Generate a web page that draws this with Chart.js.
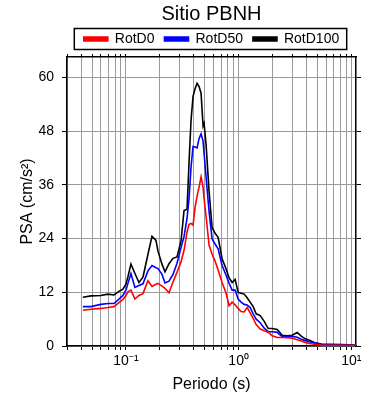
<!DOCTYPE html>
<html>
<head>
<meta charset="utf-8">
<script src="https://cdn.jsdelivr.net/npm/chart.js@4"></script>
<style>
    html, body { margin: 0; padding: 0; background: #fff; }
    #wrap { width: 390px; height: 400px; }
</style>
</head>
<body>
<div id="wrap"><canvas id="psa" width="390" height="400"></canvas></div>
<script>
// Periods (s), shared by the three spectra
const periods = [0.0415, 0.0489, 0.0599, 0.0692, 0.0782, 0.0867, 0.094, 0.1, 0.1042, 0.1108,
    0.1202, 0.1305, 0.1416, 0.1569, 0.1703, 0.1848, 0.1925, 0.2089, 0.2222, 0.2411,
    0.2617, 0.284, 0.3083, 0.3278, 0.3485, 0.3631, 0.3783, 0.3941, 0.4106, 0.4277,
    0.4456, 0.4642, 0.4836, 0.4936, 0.5142, 0.5468, 0.5813, 0.6181, 0.6573, 0.7132,
    0.7743, 0.8234, 0.8754, 0.9309, 0.9898, 1.052, 1.119, 1.19, 1.265, 1.345,
    1.431, 1.553, 1.686, 1.829, 1.986, 2.199, 2.436, 2.698, 2.989, 3.311,
    3.594, 3.901, 4.234, 4.691, 5.412, 6.374, 8.15, 11.0];

const rotD0 = [8.0, 8.2, 8.4, 8.6, 8.8, 9.7, 10.4, 11.3, 12.1, 12.5,
    10.5, 11.3, 11.7, 14.6, 13.3, 13.8, 14.0, 13.4, 12.9, 11.9,
    14.3, 16.5, 18.8, 21.4, 25.5, 27.2, 27.4, 27.0, 31.0, 33.5,
    35.5, 37.8, 35.5, 33.0, 29.0, 22.5, 20.5, 19.0, 17.0, 14.2,
    11.8, 9.0, 9.8, 9.2, 8.4, 7.7, 7.6, 8.6, 7.4, 6.2,
    4.8, 3.8, 3.4, 3.1, 2.3, 1.9, 1.9, 1.85, 1.75, 1.4,
    1.1, 0.8, 0.55, 0.4, 0.2, 0.15, 0.15, 0.15];

const rotD50 = [8.8, 8.8, 9.3, 9.5, 9.5, 10.5, 11.3, 12.5, 14.0, 16.2,
    13.1, 13.5, 13.9, 16.8, 18.0, 17.5, 17.3, 16.0, 14.1, 14.5,
    16.0, 18.5, 22.0, 24.5, 28.5, 33.0, 40.0, 44.6, 44.5, 44.3,
    46.4, 47.4, 45.8, 43.0, 37.8, 30.0, 24.0, 22.8, 21.7, 18.0,
    15.8, 14.0, 12.5, 12.5, 10.5, 9.8, 9.3, 9.15, 8.6, 7.2,
    6.0, 5.2, 4.0, 3.2, 3.2, 3.05, 2.1, 2.1, 2.15, 1.95,
    1.5, 1.2, 0.96, 0.7, 0.35, 0.25, 0.2, 0.2];

const rotD100 = [10.9, 11.2, 11.3, 11.6, 11.4, 12.2, 12.7, 13.8, 15.5, 18.3,
    16.2, 14.2, 15.4, 20.5, 24.5, 23.6, 21.2, 18.3, 16.6, 18.4,
    19.6, 19.9, 23.5, 30.3, 30.6, 41.0, 50.5, 55.8, 57.5, 58.7,
    58.0, 56.5, 49.2, 49.8, 45.0, 34.5, 26.5, 25.2, 24.3, 19.5,
    17.2, 15.2, 14.2, 14.9, 12.0, 11.8, 11.6, 10.8, 9.8, 8.8,
    7.2, 6.8, 5.5, 3.9, 3.9, 3.7, 2.4, 2.3, 2.4, 3.0,
    2.2, 1.6, 1.3, 0.8, 0.45, 0.37, 0.3, 0.2];

const seriesNames = ['RotD0', 'RotD50', 'RotD100'];
const seriesColors = ['#ff0000', '#0000ff', '#000000'];

const yTicks = [0, 12, 24, 36, 48, 60];
const decadeTicks = [0.1, 1, 10];
const decadeLabels = ['10\u207B\u00B9', '10\u2070', '10\u00B9'];

const xMin = 0.03;
const xMax = 11;
const yMax = 64.6;

// log grid positions: 1..9 x 10^n inside the axis range
function logTicks() {
    const ticks = [];
    for (let e = -2; e <= 1; e++) {
        for (let m = 1; m <= 9; m++) {
            const v = m * Math.pow(10, e);
            if (v >= xMin && v <= xMax) {
                ticks.push({ value: v });
            }
        }
    }
    return ticks;
}

function decadeLabel(value) {
    const i = decadeTicks.findIndex(d => Math.abs(d - value) < d * 1e-6);
    return i >= 0 ? decadeLabels[i] : '';
}

const legendFrame = {
    id: 'legendFrame',
    afterDraw(chart) {
        const boxes = chart.legend && chart.legend.legendHitBoxes;
        if (!boxes || !boxes.length) {
            return;
        }
        const first = boxes[0];
        const last = boxes[boxes.length - 1];
        const ctx = chart.ctx;
        ctx.save();
        ctx.strokeStyle = '#000';
        ctx.lineWidth = 1.5;
        ctx.strokeRect(first.left - 9.5, first.top - 3.5, last.left + last.width - first.left + 17, first.height + 7);
        ctx.restore();
    },
};

Chart.defaults.font.family = "'Liberation Sans', Arial, sans-serif";
Chart.defaults.color = '#000';

const series = [rotD0, rotD50, rotD100];

const frame = { display: true, color: '#000', width: 1.5 };

new Chart(document.getElementById('psa'), {
    type: 'line',
    data: {
        datasets: series.map((values, i) => ({
            label: seriesNames[i],
            data: periods.map((p, j) => ({ x: p, y: values[j] })),
            borderColor: seriesColors[i],
            backgroundColor: seriesColors[i],
            borderWidth: 1.6,
            pointRadius: 0,
            tension: 0,
        })),
    },
    options: {
        responsive: false,
        animation: false,
        devicePixelRatio: 1,
        layout: { padding: { left: 0, right: 29, top: 0, bottom: 0 } },
        plugins: {
            title: {
                display: true,
                text: 'Sitio PBNH',
                fullSize: false,
                font: { size: 20, weight: 'normal' },
                padding: { top: 2, bottom: -4 },
            },
            legend: {
                position: 'top',
                fullSize: false,
                labels: {
                    font: { size: 14 },
                    boxWidth: 24,
                    boxHeight: 4,
                    padding: 10,
                },
            },
            tooltip: { enabled: false },
        },
        scales: {
            x: {
                type: 'logarithmic',
                position: 'bottom',
                min: xMin,
                max: xMax,
                afterBuildTicks: scale => { scale.ticks = logTicks(); },
                afterFit: scale => { scale.height = 54; },
                ticks: {
                    autoSkip: false,
                    maxRotation: 0,
                    padding: 3,
                    font: { size: 14 },
                    callback: value => decadeLabel(value),
                },
                grid: { color: '#9a9a9a', lineWidth: 1, tickColor: '#000', tickLength: 4 },
                border: frame,
                title: {
                    display: true,
                    text: 'Periodo (s)',
                    font: { size: 16 },
                    padding: { top: 0, bottom: 6 },
                },
            },
            x2: {
                type: 'logarithmic',
                position: 'top',
                min: xMin,
                max: xMax,
                afterBuildTicks: scale => { scale.ticks = logTicks(); },
                afterFit: scale => { scale.height = 1; },
                ticks: { display: false },
                grid: { drawOnChartArea: false, tickColor: '#000', tickLength: 3 },
                border: frame,
            },
            y: {
                position: 'left',
                min: 0,
                max: yMax,
                afterBuildTicks: scale => { scale.ticks = yTicks.map(v => ({ value: v })); },
                afterFit: scale => { scale.width = 67; },
                ticks: { padding: 8, font: { size: 14 } },
                grid: { color: '#9a9a9a', lineWidth: 1, tickColor: '#000', tickLength: 5 },
                border: frame,
                title: {
                    display: true,
                    text: 'PSA (cm/s\u00B2)',
                    font: { size: 16 },
                    padding: { top: 18, bottom: 0 },
                },
            },
            y2: {
                position: 'right',
                min: 0,
                max: yMax,
                afterBuildTicks: scale => { scale.ticks = yTicks.map(v => ({ value: v })); },
                afterFit: scale => { scale.width = 5; },
                ticks: { display: false },
                grid: { drawOnChartArea: false, tickColor: '#000', tickLength: 5 },
                border: frame,
            },
        },
    },
    plugins: [legendFrame],
});
</script>
</body>
</html>
